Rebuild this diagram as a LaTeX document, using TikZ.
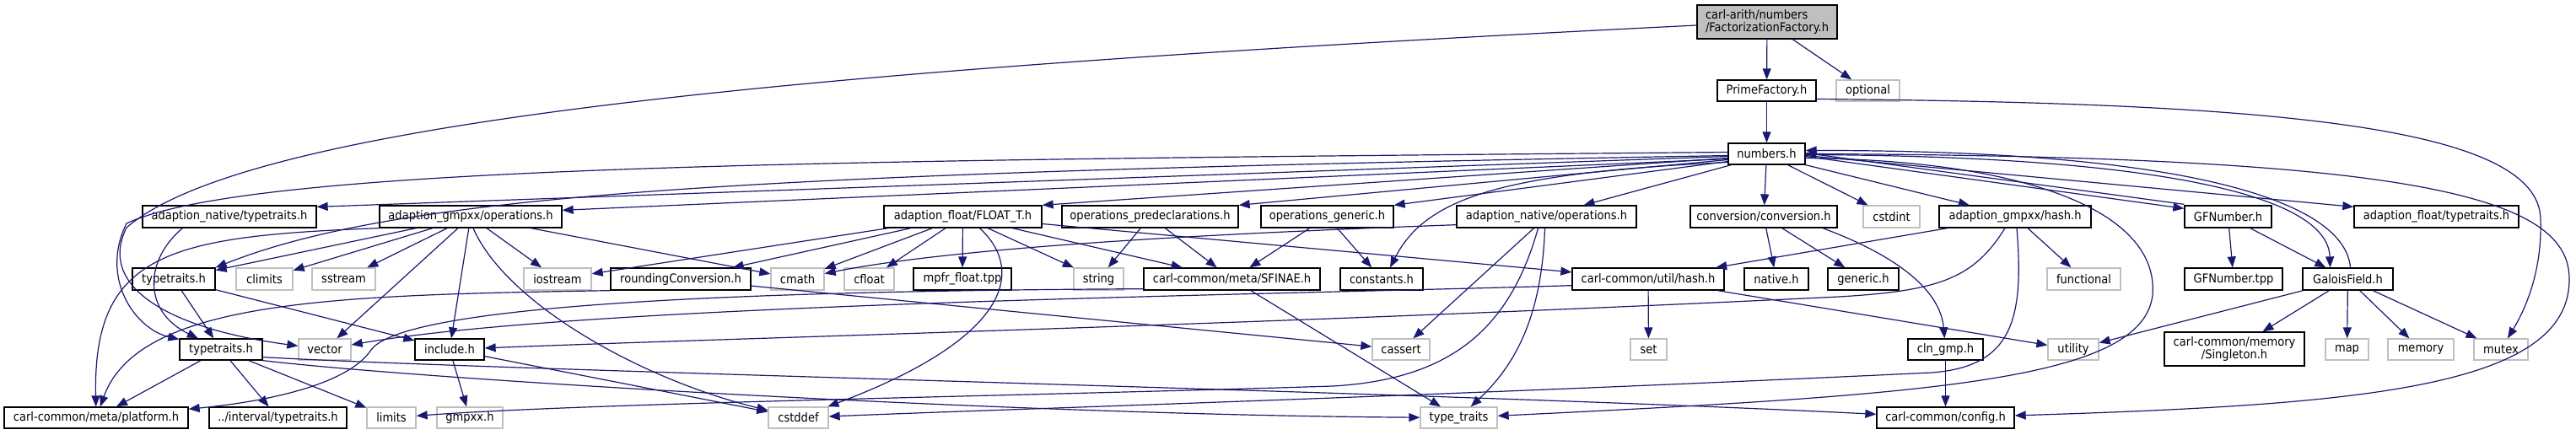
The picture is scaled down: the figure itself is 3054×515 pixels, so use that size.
\documentclass[tikz,border=0pt]{standalone}
\usepackage{fontspec}
\setmainfont{DejaVu Sans}[FakeStretch=0.9]
\usetikzlibrary{arrows.meta}
\definecolor{mblue}{HTML}{191970}
\definecolor{sysgray}{HTML}{BFBFBF}
\newcommand{\nfs}{\fontsize{14.5}{15}\selectfont}
\tikzset{
  nd/.style={draw=black, line width=1.3pt, fill=white, inner sep=0pt, font=\nfs, text=black},
  sys/.style={nd, draw=sysgray},
  e/.style={draw=mblue, line width=1.2pt, -{Triangle[length=13pt,width=10pt]}},
}
\begin{document}
\begin{tikzpicture}[x=1pt,y=-1pt]
\useasboundingbox (0,0) rectangle (3054,515);
% row 0-2
\node[nd, fill=sysgray, minimum width=166pt, minimum height=40pt, align=left] (FF) at (2095,26) {carl-arith/numbers\\/FactorizationFactory.h};
\node[nd, minimum width=117pt, minimum height=25pt] (PF) at (2094.5,107.5) {PrimeFactory.h};
\node[sys, minimum width=75pt, minimum height=25pt] (optional) at (2214.5,107.5) {optional};
\node[nd, minimum width=91pt, minimum height=25pt] (numbers) at (2094.5,182.5) {numbers.h};
% row 3
\begin{scope}[every node/.append style={minimum height=26pt}]
\node[nd, minimum width=206pt] (ant) at (272,257) {adaption\_native/typetraits.h};
\node[nd, minimum width=216pt] (gops) at (558,257) {adaption\_gmpxx/operations.h};
\node[nd, minimum width=187pt] (float) at (1141.5,257) {adaption\_float/FLOAT\_T.h};
\node[nd, minimum width=209pt] (opred) at (1363.5,257) {operations\_predeclarations.h};
\node[nd, minimum width=157pt] (ogen) at (1573.5,257) {operations\_generic.h};
\node[nd, minimum width=213pt] (nops) at (1833.5,257) {adaption\_native/operations.h};
\node[nd, minimum width=174pt] (conv) at (2091,257) {conversion/conversion.h};
\node[sys, minimum width=67pt] (cstdint) at (2242.5,257) {cstdint};
\node[nd, minimum width=180pt] (ghash) at (2389,257) {adaption\_gmpxx/hash.h};
\node[nd, minimum width=103pt] (gfn) at (2641.5,257) {GFNumber.h};
\node[nd, minimum width=195pt] (ftt) at (2888.5,257) {adaption\_float/typetraits.h};
% row 4
\node[nd, minimum width=98pt] (tta) at (206,331) {typetraits.h};
\node[sys, minimum width=67pt] (climits) at (313.5,331) {climits};
\node[sys, minimum width=75pt] (sstream) at (407.5,331) {sstream};
\node[sys, minimum width=80pt] (iostream) at (661,331) {iostream};
\node[nd, minimum width=166pt] (round) at (807,331) {roundingConversion.h};
\node[sys, minimum width=63pt] (cmath) at (945.5,331) {cmath};
\node[sys, minimum width=59pt] (cfloat) at (1030.5,331) {cfloat};
\node[nd, minimum width=116pt] (mpfr) at (1141,331) {mpfr\_float.tpp};
\node[sys, minimum width=59pt] (string) at (1302.5,331) {string};
\node[nd, minimum width=209pt] (sfinae) at (1460.5,331) {carl-common/meta/SFINAE.h};
\node[nd, minimum width=98pt] (constants) at (1638,331) {constants.h};
\node[nd, minimum width=180pt] (uhash) at (1954,331) {carl-common/util/hash.h};
\node[nd, minimum width=76pt] (native) at (2106,331) {native.h};
\node[nd, minimum width=84pt] (generic) at (2209,331) {generic.h};
\node[sys, minimum width=87pt] (functional) at (2470.5,331) {functional};
\node[nd, minimum width=116pt] (gftpp) at (2648,331) {GFNumber.tpp};
\node[nd, minimum width=107pt] (galois) at (2783.5,331) {GaloisField.h};
\end{scope}
% row 5
\begin{scope}[every node/.append style={minimum height=25pt}]
\node[nd, minimum width=98pt] (ttb) at (262,414.5) {typetraits.h};
\node[sys, minimum width=62pt] (vector) at (385,414.5) {vector};
\node[nd, minimum width=82pt] (include) at (533,414.5) {include.h};
\node[sys, minimum width=68pt] (cassert) at (1661,414.5) {cassert};
\node[sys, minimum width=43pt] (set) at (1954.5,414.5) {set};
\node[nd, minimum width=89pt] (clngmp) at (2306.5,414.5) {cln\_gmp.h};
\node[sys, minimum width=60pt] (utility) at (2458,414.5) {utility};
\node[sys, minimum width=51pt] (map) at (2782.5,414.5) {map};
\node[sys, minimum width=78pt] (memory) at (2870,414.5) {memory};
\node[sys, minimum width=64pt] (mutex) at (2965,414.5) {mutex};
% row 6
\node[nd, minimum width=218pt] (platform) at (114,495.5) {carl-common/meta/platform.h};
\node[nd, minimum width=163pt] (itt) at (329.5,495.5) {../interval/typetraits.h};
\node[sys, minimum width=58pt] (limits) at (464,495.5) {limits};
\node[sys, minimum width=78pt] (gmpxx) at (557,495.5) {gmpxx.h};
\node[sys, minimum width=71pt] (cstddef) at (946.5,495.5) {cstddef};
\node[sys, minimum width=91pt] (typetr) at (1729.5,495.5) {type\_traits};
\node[nd, minimum width=163pt] (config) at (2306.5,495.5) {carl-common/config.h};
\end{scope}
\node[nd, minimum width=166pt, minimum height=40pt, align=center] (singleton) at (2649,414) {carl-common/memory\\/Singleton.h};

% ---- edges from FactorizationFactory / PrimeFactory
\draw[e] (FF) -- (PF);
\draw[e] (FF) -- (optional);
\draw[e] ([yshift=-4pt]FF.west) .. controls (1000,80) and (300,140) .. (150,270) .. controls (115,340) and (200,390) .. (vector);
\draw[e] (PF) -- (numbers);
\draw[e] ([yshift=-10pt]PF.east) .. controls (2700,122) and (3010,150) .. (3012,260) .. controls (3014,320) and (2995,365) .. (mutex);

% ---- edges from numbers.h
\draw[e] ([yshift=2pt]numbers.west) .. controls (1000,190) and (300,195) .. (150,265) .. controls (118,330) and (160,390) .. (ttb);
\draw[e] ([yshift=-2pt]numbers.west) .. controls (900,205) and (480,228) .. (tta.north east);
\draw[e] ([yshift=-3pt]numbers.west) -- ([yshift=-2pt]ant.north east);
\draw[e] ([yshift=-6pt]numbers.west) -- ([yshift=-6pt]gops.north east);
\draw[e] ([yshift=-5pt]numbers.west) -- (float.north east);
\draw[e] ([yshift=-7pt]numbers.west) -- (opred.north east);
\draw[e] ([yshift=-9pt]numbers.west) -- (ogen.north east);
\draw[e] ([yshift=-10pt]numbers.west) .. controls (1780,205) and (1690,235) .. ([xshift=10pt]constants.north);
\draw[e] ([xshift=4pt]numbers.south west) -- ([xshift=44pt]nops.north);
\draw[e] (numbers) -- (conv);
\draw[e] ([xshift=25pt]numbers.south) -- ([xshift=-28pt]cstdint.north);
\draw[e] (numbers.south east) -- ([xshift=-54pt]ghash.north);
\draw[e] ([yshift=-3pt]numbers.east) -- ([yshift=-4pt]gfn.north west);
\draw[e] ([yshift=1pt]gfn.north west) -- ([yshift=1pt]numbers.east);
\draw[e] ([yshift=-1pt]numbers.east) .. controls (2550,185) and (2760,230) .. ([xshift=-21pt]galois.north);
\draw[e] ([xshift=3pt]galois.north) .. controls (2780,240) and (2600,178) .. ([yshift=4pt]numbers.east);
\draw[e] ([yshift=-2pt]numbers.east) -- ([yshift=-2pt]ftt.north west);
\draw[e] (numbers.east) .. controls (2850,185) and (3045,230) .. (3046,330) .. controls (3048,460) and (2800,480) .. (config);
\draw[e] ([yshift=-5pt]numbers.east) .. controls (2400,190) and (2560,250) .. (2552,350) .. controls (2540,450) and (2300,468) .. (typetr);

% ---- adaption_native/typetraits.h
\draw[e] ([xshift=48pt]ant.south west) .. controls (170,310) and (170,370) .. (ttb);

% ---- adaption_gmpxx/operations.h
\draw[e] (gops.south west) .. controls (200,280) and (110,300) .. (platform);
\draw[e] (gops) -- (tta);
\draw[e] (gops) -- (climits);
\draw[e] (gops) -- (sstream);
\draw[e] (gops) -- (vector);
\draw[e] (gops) -- (include);
\draw[e] (gops) -- (iostream);
\draw[e] (gops) -- (cmath);
\draw[e] ([xshift=3pt]gops.south) .. controls (600,360) and (760,450) .. (cstddef);

% ---- adaption_float/FLOAT_T.h
\draw[e] (float) -- (iostream);
\draw[e] (float) -- (round);
\draw[e] (float) -- (cmath);
\draw[e] (float) -- (cfloat);
\draw[e] (float) -- (mpfr);
\draw[e] (float) -- (string);
\draw[e] (float) -- (sfinae);
\draw[e] (float) -- (uhash);
\draw[e] ([xshift=20pt]float.south) .. controls (1215,320) and (1200,400) .. (cstddef);

% ---- operations_predeclarations / generic
\draw[e] (opred) -- (string);
\draw[e] (opred) -- (sfinae);
\draw[e] (ogen) -- (sfinae);
\draw[e] (ogen) -- (constants);

% ---- adaption_native/operations.h
\draw[e] ([yshift=4pt]nops.south west) .. controls (1500,275) and (1150,290) .. (cmath);
\draw[e] (nops) -- (cassert);
\draw[e] ([xshift=-2pt]nops.south) .. controls (1828,370) and (1800,430) .. (typetr);
\draw[e] ([xshift=-10pt]nops.south) .. controls (1790,390) and (1720,450) .. (1580,458) .. controls (1200,470) and (700,478) .. (limits);

% ---- conversion
\draw[e] (conv) -- (native);
\draw[e] (conv) -- (generic);
\draw[e] ([xshift=70pt]conv.south) .. controls (2240,300) and (2300,340) .. (clngmp);

% ---- adaption_gmpxx/hash.h
\draw[e] (ghash) -- (uhash);
\draw[e] (ghash) -- (functional);
\draw[e] ([xshift=-12pt]ghash.south) .. controls (2340,330) and (2300,345) .. (2180,352) .. controls (1500,385) and (900,400) .. (include);
\draw[e] ([xshift=2pt]ghash.south) .. controls (2400,380) and (2385,435) .. (2290,442) .. controls (1700,470) and (1200,485) .. (cstddef);

% ---- GFNumber / GaloisField
\draw[e] (gfn) -- (gftpp);
\draw[e] (gfn) -- (galois);
\draw[e] (galois) -- (utility);
\draw[e] (galois) -- (singleton);
\draw[e] (galois) -- (map);
\draw[e] (galois) -- (memory);
\draw[e] (galois) -- (mutex);

% ---- carl-common/util/hash.h
\draw[e] (uhash) -- (set);
\draw[e] (uhash) -- (utility);
\draw[e] ([yshift=6pt]uhash.south west) .. controls (1500,350) and (700,360) .. (vector);

% ---- SFINAE, roundingConversion
\draw[e] ([yshift=2pt]sfinae.south west) .. controls (900,345) and (480,360) .. (440,415) .. controls (410,460) and (300,478) .. (platform);
\draw[e] (sfinae) -- (typetr);
\draw[e] (round.south west) .. controls (400,350) and (165,355) .. (platform);
\draw[e] (round) -- (cassert);

% ---- typetraits, include, cln_gmp
\draw[e] (tta) -- (ttb);
\draw[e] (tta) -- (include);
\draw[e] (ttb) -- (platform);
\draw[e] (ttb) -- (itt);
\draw[e] (ttb) -- (limits);
\draw[e] (ttb.south east) .. controls (500,450) and (1200,492) .. (typetr);
\draw[e] ([yshift=4pt]ttb.south east) .. controls (600,440) and (1700,465) .. (config);
\draw[e] (include) -- (gmpxx);
\draw[e] (include) -- (cstddef);
\draw[e] (clngmp) -- (config);
\end{tikzpicture}
\end{document}
